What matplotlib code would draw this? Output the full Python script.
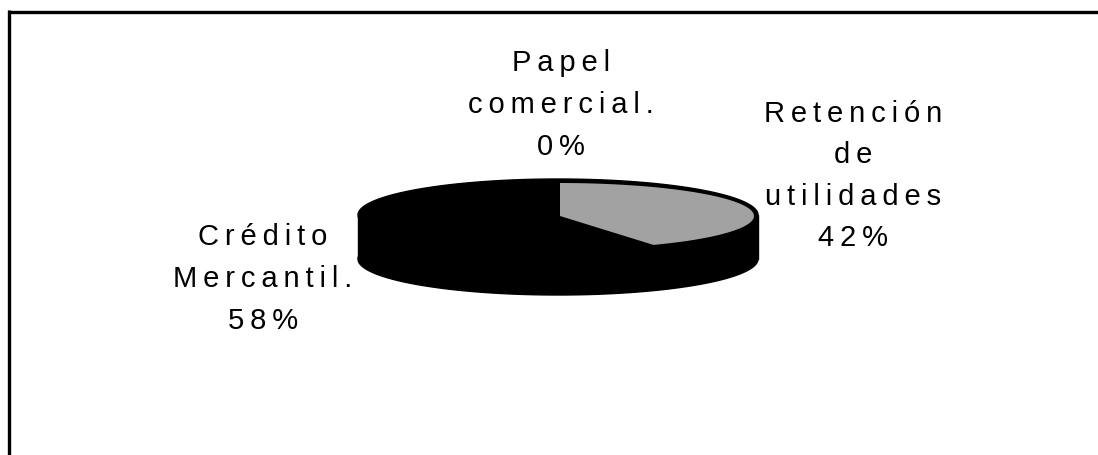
import numpy as np
import matplotlib
matplotlib.use('Agg')
import matplotlib.pyplot as plt
from matplotlib.patches import Polygon

# word lists per label, with the percent as the last line
labels = [['Retención', 'de', 'utilidades'], ['Papel', 'comercial.'], ['Crédito', 'Mercantil.']]
values = [42, 0, 58]
label_pos = [(853, 176), (561, 105), (263, 279)]
slice_color = '#a2a2a2'

THIN = '\u2009'


def spaced(word):
    # the scan has very loose letter spacing
    return THIN.join(word)


fig = plt.figure(figsize=(10.98, 4.55), dpi=100)
ax = fig.add_axes([0, 0, 1, 1])
ax.set_xlim(0, 1098)
ax.set_ylim(455, 0)
ax.axis('off')

# chart frame, cut off at the right and bottom of the scan
ax.plot([9, 9], [455, 10], color='black', lw=2.4, solid_capstyle='butt')
ax.plot([7.5, 1098], [11.7, 11.7], color='black', lw=2.4, solid_capstyle='butt')

# flat 3d pie: top ellipse, lower ellipse and the block between them
cx, cy, rx, ry, depth = 558, 215, 200, 36, 44
theta = np.linspace(0, 2 * np.pi, 300)
ax.fill(cx + rx * np.cos(theta), cy + ry * np.sin(theta), color='black', zorder=2)
ax.fill(cx + rx * np.cos(theta), cy + depth + ry * np.sin(theta), color='black', zorder=2)
ax.fill([cx - rx, cx + rx, cx + rx, cx - rx], [cy, cy, cy + depth, cy + depth], color='black', zorder=2)

# slice goes clockwise from 12 o'clock, first value on the right
end = 2 * np.pi * values[0] / sum(values)
a = np.linspace(0, end, 80)
px = cx + 2 + (rx - 6) * np.sin(a)
py = cy + 1 - (ry - 3) * np.cos(a)
ax.add_patch(Polygon(np.c_[np.r_[cx + 2, px], np.r_[cy + 1, py]], closed=True,
                     facecolor=slice_color, edgecolor='none', zorder=3))

for words, val, (x, y) in zip(labels, values, label_pos):
    lines = [spaced(w) for w in words] + [spaced(f'{val}%')]
    ax.text(x, y, '\n'.join(lines), ha='center', va='center', fontsize=21,
            family=['Liberation Sans', 'DejaVu Sans'], linespacing=1.62)

fig.savefig('out.png', dpi=100)
